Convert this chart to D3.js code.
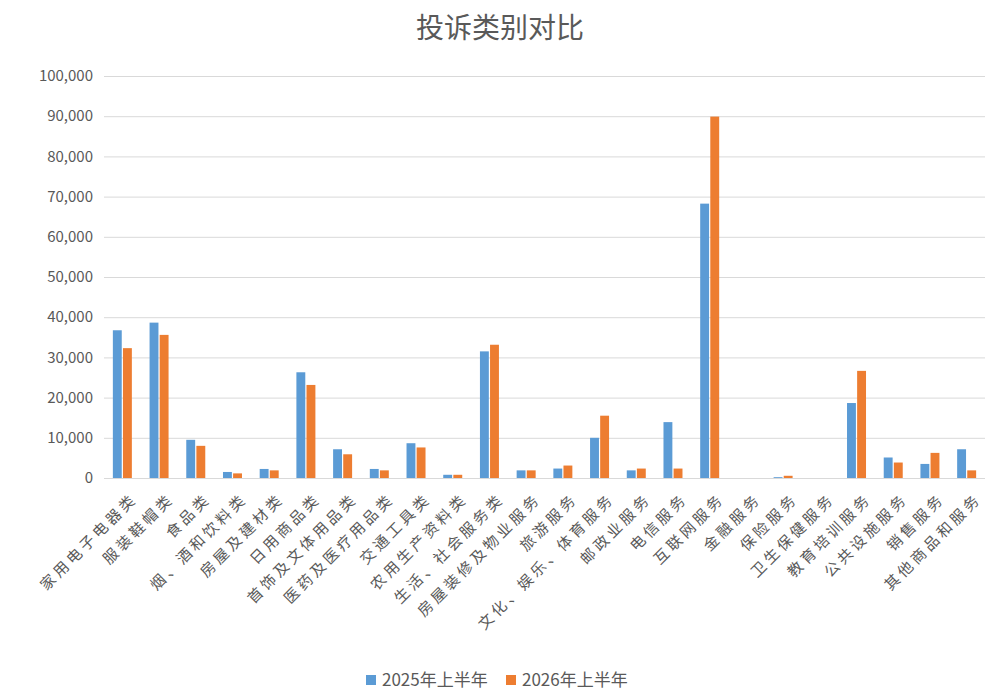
<!DOCTYPE html>
<html>
<head>
<meta charset="utf-8">
<script src="https://cdn.jsdelivr.net/npm/d3@7"></script>
<style>
  body { margin: 0; background: #fff; }
  text { font-family: "Noto Sans CJK SC", "Noto Sans", sans-serif; fill: #595959; }
</style>
</head>
<body>
<div id="chart"></div>
<script>
// Category names (x axis)
var categories = ["家用电子电器类", "服装鞋帽类", "食品类", "烟、酒和饮料类", "房屋及建材类", "日用商品类",
    "首饰及文体用品类", "医药及医疗用品类", "交通工具类", "农用生产资料类", "生活、社会服务类", "房屋装修及物业服务",
    "旅游服务", "文化、娱乐、体育服务", "邮政业服务", "电信服务", "互联网服务", "金融服务",
    "保险服务", "卫生保健服务", "教育培训服务", "公共设施服务", "销售服务", "其他商品和服务"];

var seriesNames = ["2025年上半年", "2026年上半年"];

// values
var values2025 = [36750, 38650, 9500, 1500, 2250, 26300, 7150, 2250, 8650, 800, 31500, 1900,
    2350, 10000, 1900, 13900, 68250, 0, 200, 0, 18650, 5100, 3500, 7150];
var values2026 = [32300, 35600, 8000, 1150, 1900, 23150, 5900, 1900, 7600, 800, 33150, 1900,
    3100, 15500, 2350, 2350, 89900, 0, 550, 0, 26650, 3850, 6250, 1900];

var yTicks = d3.range(0, 100001, 10000);
var colors = ["#5B9BD5", "#ED7D31"];

var width = 1000, height = 693;
var margin = {top: 76, right: 15, bottom: 215, left: 104};

var svg = d3.select("#chart").append("svg")
    .attr("width", width)
    .attr("height", height);

// title
svg.append("text")
    .attr("x", width / 2)
    .attr("y", 38)
    .attr("text-anchor", "middle")
    .style("font-size", "28px")
    .text("投诉类别对比");

var x0 = d3.scaleBand()
    .domain(categories)
    .range([margin.left, width - margin.right])
    .paddingInner(0);

var x1 = d3.scaleBand()
    .domain(seriesNames)
    .range([-9.5, 9.5])
    .paddingInner(0.12);

var y = d3.scaleLinear()
    .domain([0, 100000])
    .range([height - margin.bottom, margin.top]);

// gridlines + y labels
var grid = svg.append("g");
grid.selectAll("line")
    .data(yTicks)
    .enter().append("line")
        .attr("x1", margin.left)
        .attr("x2", width - margin.right)
        .attr("y1", function(d) { return y(d) + 0.5; })
        .attr("y2", function(d) { return y(d) + 0.5; })
        .attr("stroke", "#d9d9d9")
        .attr("stroke-width", 1);

grid.selectAll("text")
    .data(yTicks)
    .enter().append("text")
        .attr("x", 93)
        .attr("y", function(d) { return y(d); })
        .attr("dy", "0.35em")
        .attr("text-anchor", "end")
        .style("font-size", "15px")
        .text(d3.format(","));

// bars
var table = categories.map(function(c, i) {
    return {name: c, vals: [values2025[i], values2026[i]]};
});

var groups = svg.append("g").selectAll("g")
    .data(table)
    .enter().append("g")
        .attr("transform", function(d) { return "translate(" + (x0(d.name) + x0.bandwidth() / 2) + ",0)"; });

groups.selectAll("rect")
    .data(function(d) { return d.vals.map(function(v, j) { return {s: seriesNames[j], v: v, j: j}; }); })
    .enter().append("rect")
        .attr("x", function(d) { return x1(d.s); })
        .attr("width", x1.bandwidth())
        .attr("y", function(d) { return y(d.v); })
        .attr("height", function(d) { return y(0) - y(d.v); })
        .attr("fill", function(d) { return colors[d.j]; });

// rotated category labels
svg.append("g").selectAll("text")
    .data(categories)
    .enter().append("text")
        .attr("transform", function(d) {
            return "translate(" + (x0(d) + x0.bandwidth() / 2 + 12) + "," + (height - margin.bottom + 18) + ")rotate(-45)";
        })
        .attr("text-anchor", "end")
        .attr("dy", "0.35em")
        .style("font-size", "15px")
        .style("letter-spacing", "3.5px")
        .text(function(d) { return d; });

// legend
var legend = svg.append("g").attr("transform", "translate(366,680)");
var lx = [0, 140];
seriesNames.forEach(function(s, i) {
    var g = legend.append("g").attr("transform", "translate(" + lx[i] + ",0)");
    g.append("rect")
        .attr("x", 0).attr("y", -5)
        .attr("width", 10).attr("height", 10)
        .attr("fill", colors[i]);
    g.append("text")
        .attr("x", 16)
        .attr("dy", "0.35em")
        .style("font-size", "17px")
        .text(s);
});
</script>
</body>
</html>
